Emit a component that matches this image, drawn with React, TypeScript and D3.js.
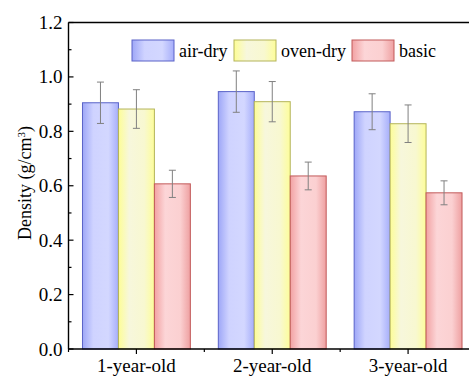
import React from "react";
import * as d3 from "d3";

const categories = ["1-year-old", "2-year-old", "3-year-old"];
const seriesNames = ["air-dry", "oven-dry", "basic"];
const airDry = [0.905, 0.946, 0.872];
const airDryErr = [0.076, 0.076, 0.066];
const ovenDry = [0.882, 0.909, 0.828];
const ovenDryErr = [0.071, 0.074, 0.069];
const basic = [0.607, 0.636, 0.574];
const basicErr = [0.05, 0.051, 0.044];
const yTicks = [0, 0.2, 0.4, 0.6, 0.8, 1.0, 1.2];
const yMinorTicks = [0.1, 0.3, 0.5, 0.7, 0.9, 1.1];

const W = 469;
const H = 378;
const left = 68.5;
const right = 476;
const top = 22.5;
const bottom = 349;
const FONT = "Liberation Serif";

const styles = [
  {
    id: "gAir",
    stops: ["#9ea7f7", "#cfd3ff", "#d3d7ff", "#a6aefa"],
    stroke: "#5a63c8",
  },
  {
    id: "gOven",
    stops: ["#fdfd96", "#f7f7dc", "#f8f8d0", "#fdfd9a"],
    stroke: "#b4b45a",
  },
  {
    id: "gBasic",
    stops: ["#f2a2a3", "#fcd5d7", "#fbd0d1", "#eea0a1"],
    stroke: "#c25a5a",
  },
];

export default function App() {
  const values = [airDry, ovenDry, basic];
  const errs = [airDryErr, ovenDryErr, basicErr];
  const p = 28 / 136;
  const x0 = d3
    .scaleBand<string>()
    .domain(categories)
    .range([left, right])
    .paddingInner(p)
    .paddingOuter(p / 2);
  const x1 = d3
    .scaleBand<string>()
    .domain(seriesNames)
    .range([0, x0.bandwidth()])
    .padding(0);
  const y = d3.scaleLinear().domain([0, 1.2]).range([bottom, top]);
  const step = x0.step();
  const boundaries = d3.range(categories.length + 1).map((i) => left + i * step);

  const legendX = [132, 234, 352];
  const textStyle = { fontFamily: FONT };

  return (
    <svg
      width={W}
      height={H}
      style={{ position: "absolute", left: 0, top: 0, background: "#fff" }}
    >
      <defs>
        {styles.map((s) => (
          <linearGradient key={s.id} id={s.id} x1="0" x2="1" y1="0" y2="0">
            <stop offset="0%" stopColor={s.stops[0]} />
            <stop offset="30%" stopColor={s.stops[1]} />
            <stop offset="72%" stopColor={s.stops[2]} />
            <stop offset="100%" stopColor={s.stops[3]} />
          </linearGradient>
        ))}
      </defs>

      {/* bars */}
      {categories.map((c, ci) =>
        seriesNames.map((s, si) => {
          const v = values[si][ci];
          const bx = (x0(c) as number) + (x1(s) as number);
          const bw = x1.bandwidth();
          return (
            <rect
              key={c + s}
              x={bx}
              y={y(v)}
              width={bw}
              height={y(0) - y(v)}
              fill={`url(#${styles[si].id})`}
              stroke={styles[si].stroke}
              strokeWidth={1}
            />
          );
        })
      )}

      {/* error bars */}
      {categories.map((c, ci) =>
        seriesNames.map((s, si) => {
          const v = values[si][ci];
          const e = errs[si][ci];
          const cx = (x0(c) as number) + (x1(s) as number) + x1.bandwidth() / 2;
          return (
            <g key={"e" + c + s} stroke="#808080" strokeWidth={1}>
              <line x1={cx} x2={cx} y1={y(v + e)} y2={y(v - e)} />
              <line x1={cx - 3.5} x2={cx + 3.5} y1={y(v + e)} y2={y(v + e)} />
              <line x1={cx - 3.5} x2={cx + 3.5} y1={y(v - e)} y2={y(v - e)} />
            </g>
          );
        })
      )}

      {/* frame */}
      <g stroke="#000" strokeWidth={1.4} fill="none">
        <line x1={left} x2={left} y1={top} y2={bottom} />
        <line x1={left} x2={W} y1={bottom} y2={bottom} />
        <line x1={left} x2={W} y1={top} y2={top} />
      </g>

      {/* y ticks */}
      <g stroke="#000" strokeWidth={1.2}>
        {yTicks.map((t) => (
          <line key={"yt" + t} x1={left} x2={left + 5} y1={y(t)} y2={y(t)} />
        ))}
        {yMinorTicks.map((t) => (
          <line key={"ym" + t} x1={left} x2={left + 3} y1={y(t)} y2={y(t)} />
        ))}
      </g>
      {yTicks.map((t) => (
        <text
          key={"yl" + t}
          x={left - 6}
          y={y(t)}
          textAnchor="end"
          dominantBaseline="central"
          fontSize={19}
          fill="#000"
          style={textStyle}
        >
          {d3.format(".1f")(t)}
        </text>
      ))}

      {/* x ticks */}
      <g stroke="#000" strokeWidth={1.2}>
        {categories.map((c) => {
          const cx = (x0(c) as number) + x0.bandwidth() / 2;
          return <line key={"xt" + c} x1={cx} x2={cx} y1={bottom} y2={bottom + 5} />;
        })}
        {boundaries
          .filter((b) => b < W)
          .map((b, i) => (
            <line key={"xm" + i} x1={b} x2={b} y1={bottom} y2={bottom + 3} />
          ))}
      </g>
      {categories.map((c) => {
        const cx = (x0(c) as number) + x0.bandwidth() / 2;
        return (
          <text
            key={"xl" + c}
            x={cx}
            y={bottom + 23}
            textAnchor="middle"
            fontSize={19}
            fill="#000"
            style={textStyle}
          >
            {c}
          </text>
        );
      })}

      {/* y title */}
      <text
        transform={`translate(31, ${183}) rotate(-90)`}
        textAnchor="middle"
        fontSize={18}
        fill="#000"
        style={textStyle}
      >
        Density (g/cm
        <tspan baselineShift="super" fontSize={11}>
          3
        </tspan>
        )
      </text>

      {/* legend */}
      {seriesNames.map((s, i) => (
        <g key={"lg" + s}>
          <rect
            x={legendX[i]}
            y={40}
            width={42}
            height={21}
            fill={`url(#${styles[i].id})`}
            stroke={styles[i].stroke}
            strokeWidth={1}
          />
          <text
            x={legendX[i] + 47}
            y={50.5}
            dominantBaseline="central"
            fontSize={18}
            fill="#000"
            style={textStyle}
          >
            {s}
          </text>
        </g>
      ))}
    </svg>
  );
}
